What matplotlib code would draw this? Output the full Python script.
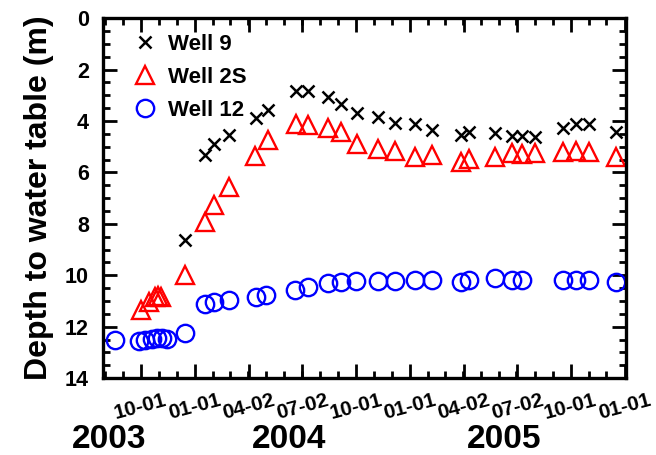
import pandas as pd
import matplotlib
matplotlib.use("Agg")
import matplotlib.pyplot as plt
import matplotlib.dates as mdates

plt.rcParams["font.family"] = ["Liberation Sans", "DejaVu Sans"]
plt.rcParams["font.weight"] = "bold"

# Well 9 (x markers)
well9_dates = ["2003-12-15", "2004-01-18", "2004-02-02", "2004-02-29", "2004-04-15",
               "2004-05-04", "2004-06-22", "2004-07-11", "2004-08-14", "2004-09-05",
               "2004-10-03", "2004-11-07", "2004-12-07", "2005-01-09", "2005-02-07",
               "2005-03-28", "2005-04-11", "2005-05-25", "2005-06-24", "2005-07-11",
               "2005-08-02", "2005-09-19", "2005-10-11", "2005-11-02", "2005-12-18"]
well9_depth = [8.63, 5.34, 4.89, 4.55, 3.88,
               3.57, 2.85, 2.85, 3.07, 3.34,
               3.67, 3.84, 4.07, 4.11, 4.33,
               4.55, 4.42, 4.46, 4.59, 4.59,
               4.64, 4.29, 4.12, 4.12, 4.42]

# Well 2S (triangles)
well2s_dates = ["2003-10-01", "2003-10-16", "2003-10-25", "2003-10-30", "2003-11-04",
                "2003-12-15", "2004-01-18", "2004-02-02", "2004-02-29", "2004-04-12",
                "2004-05-04", "2004-06-22", "2004-07-11", "2004-08-14", "2004-09-05",
                "2004-10-03", "2004-11-07", "2004-12-07", "2005-01-09", "2005-02-07",
                "2005-03-28", "2005-04-11", "2005-05-25", "2005-06-24", "2005-07-11",
                "2005-08-02", "2005-09-19", "2005-10-11", "2005-11-02", "2005-12-18"]
well2s_depth = [11.36, 11.03, 10.84, 10.81, 10.85,
                10.00, 7.92, 7.27, 6.56, 5.37,
                4.72, 4.10, 4.16, 4.27, 4.42,
                4.91, 5.07, 5.16, 5.41, 5.33,
                5.59, 5.46, 5.39, 5.26, 5.29,
                5.24, 5.20, 5.16, 5.20, 5.39]

# Well 12 (circles)
well12_dates = ["2003-08-18", "2003-09-29", "2003-10-09", "2003-10-20", "2003-10-28",
                "2003-11-06", "2003-11-14", "2003-12-15", "2004-01-18", "2004-02-02",
                "2004-02-29", "2004-04-15", "2004-05-02", "2004-06-19", "2004-07-11",
                "2004-08-14", "2004-09-05", "2004-10-02", "2004-11-07", "2004-12-07",
                "2005-01-09", "2005-02-07", "2005-03-28", "2005-04-11", "2005-05-25",
                "2005-06-24", "2005-07-11", "2005-09-19", "2005-10-11", "2005-11-02",
                "2005-12-18"]
well12_depth = [12.50, 12.55, 12.50, 12.46, 12.43,
                12.43, 12.46, 12.26, 11.10, 11.03,
                10.97, 10.85, 10.77, 10.58, 10.47,
                10.30, 10.26, 10.22, 10.22, 10.22,
                10.19, 10.19, 10.26, 10.19, 10.12,
                10.19, 10.19, 10.19, 10.19, 10.19,
                10.26]

tick_dates = ["2003-10-01", "2004-01-01", "2004-04-02", "2004-07-02", "2004-10-01",
              "2005-01-01", "2005-04-02", "2005-07-02", "2005-10-01", "2006-01-01"]
tick_labels = ["10-01", "01-01", "04-02", "07-02", "10-01",
               "01-01", "04-02", "07-02", "10-01", "01-01"]
years = ["2003", "2004", "2005"]
year_x = [0.166, 0.441, 0.768]

fig = plt.figure(figsize=(6.56, 4.55), dpi=100)
ax = fig.add_axes([0.157, 0.169, 0.797, 0.791])

ax.plot(pd.to_datetime(well9_dates), well9_depth, "x", color="black",
        markersize=8, markeredgewidth=1.8, label="Well 9")
ax.plot(pd.to_datetime(well2s_dates), well2s_depth, "^", color="red", mfc="none",
        markersize=12.5, markeredgewidth=1.7, label="Well 2S")
ax.plot(pd.to_datetime(well12_dates), well12_depth, "o", color="blue", mfc="none",
        markersize=12.5, markeredgewidth=1.7, label="Well 12")

ax.set_xlim(pd.Timestamp("2003-07-29"), pd.Timestamp("2006-01-03"))
ax.set_ylim(14, 0)

ax.set_xticks(pd.to_datetime(tick_dates))
ax.set_xticklabels(tick_labels, rotation=15, ha="center", fontsize=15, fontweight="bold")
ax.xaxis.set_minor_locator(mdates.MonthLocator())
ax.set_yticks(range(0, 15, 2))
ax.set_yticks([v / 2 for v in range(0, 29)], minor=True)
ax.tick_params(axis="y", labelsize=15.5)

ax.tick_params(which="both", direction="in", top=True, right=True, width=2)
ax.tick_params(which="major", length=10)
ax.tick_params(which="minor", length=5)
ax.tick_params(axis="x", which="major", pad=9)
ax.tick_params(axis="y", which="major", pad=10)
for sp in ax.spines.values():
    sp.set_linewidth(2.4)

ax.set_ylabel("Depth to water table (m)", fontsize=23, fontweight="bold", labelpad=8)

ax.legend(loc="upper left", frameon=False, fontsize=16, handlelength=1.0,
          handletextpad=0.5, labelspacing=0.55, borderaxespad=0.3,
          bbox_to_anchor=(0.03, 1.0))

for yr, xx in zip(years, year_x):
    fig.text(xx, 1 - 440 / 455, yr, ha="center", va="center", fontsize=24, fontweight="bold")

fig.savefig("out.png", dpi=100)
